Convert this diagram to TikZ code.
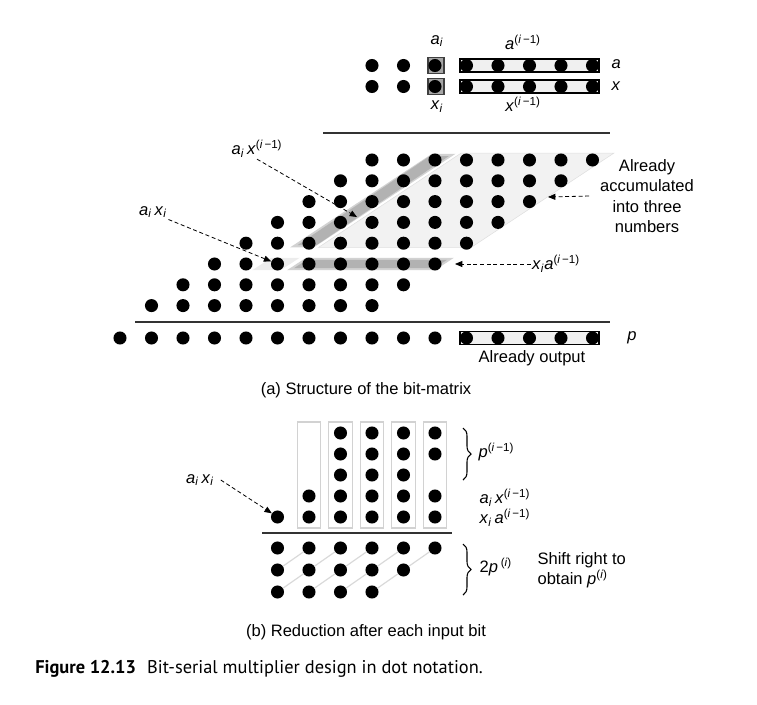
\documentclass[tikz,border=0pt]{standalone}
\usepackage{fontspec}
\setmainfont{Liberation Sans}
\newfontfamily\capfont{PT Sans}
\usetikzlibrary{arrows.meta,decorations.pathreplacing}

\newcommand{\vsub}[2]{\textit{#1}\textsubscript{\textit{#2}}}
\newcommand{\vprev}[1]{\textit{#1}\textsuperscript{(\textit{i}\,−1)}}

\tikzset{
  dot/.style={circle, fill=black, inner sep=0pt, minimum size=9.8pt},
  lbl/.style={inner sep=1pt, font=\fontsize{12.4}{15.4}\selectfont},
  dasharr/.style={dash pattern=on 3pt off 2pt, line width=0.6pt,
    -{Triangle[length=5.5pt,width=4.5pt]}},
  bar/.style={fill=gray!12, draw=black, line width=1.1pt},
  rule/.style={line width=1.1pt, black!80},
  colbox/.style={draw=gray!35, line width=1pt},
  brace/.style={decorate, decoration={brace, amplitude=6pt}, line width=0.8pt},
}

\begin{document}
\begin{tikzpicture}[x=0.75pt, y=-0.75pt]
  \useasboundingbox (0,0) rectangle (757,704);

  % Inputs a and x
  \foreach \y/\nm in {65.5/a, 86.5/x} {
    \draw[bar] (460,\y-6.5) rectangle (599,\y+6.5);
    \draw[fill=gray!70, draw=gray!50!black, line width=0.8pt] (428,\y-8) rectangle (444,\y+8);
    \foreach \c in {8,...,15}
      \node[dot] (\nm-\c) at ({120+31.5*\c},\y) {};
  }
  \node[lbl] (lbl-ai) at (437,41) {\vsub{a}{i}};
  \node[lbl] (lbl-ap) at (523,42) {\vprev{a}};
  \node[lbl] (lbl-xi) at (437,107) {\vsub{x}{i}};
  \node[lbl] (lbl-xp) at (523,104) {\vprev{x}};
  \node[lbl, anchor=west] (lbl-a) at (610,64) {\textit{a}};
  \node[lbl, anchor=west] (lbl-x) at (610,86) {\textit{x}};

  % Rules
  \draw[rule] (323,133) -- (610,133);
  \draw[rule] (135,322) -- (610,322);

  % Shaded regions
  \filldraw[fill=gray!10, draw=gray!25] (461.1,153.1) -- (613.9,153.1) -- (471.2,247.4) -- (318.5,247.4) -- cycle;
  \fill[gray!35] (431.9,153.8) -- (455.5,153.8) -- (313.7,247.4) -- (290.1,247.4) -- cycle;
  \fill[gray!60] (430.0,156.0) -- (448.9,156.0) -- (316.6,245.0) -- (297.7,245.0) -- cycle;
  \fill[gray!35] (305.9,257.8) -- (453.9,257.8) -- (435.0,270.2) -- (287.0,270.2) -- cycle;
  \fill[gray!60] (306.8,259.8) -- (447.0,259.8) -- (434.1,268.2) -- (294.0,268.2) -- cycle;
  \fill[gray!15] (271.2,257.8) -- (299.6,257.8) -- (280.7,270.2) -- (252.3,270.2) -- cycle;

  % Bit-matrix
  \foreach \r in {0,...,7}
    \foreach \u in {8,...,15} {
      \pgfmathtruncatemacro\c{\u-\r}
      \node[dot] (m-\r-\c) at ({120+31.5*\c},{160+20.8*\r}) {};
    }

  % Product p
  \draw[bar] (460,331.5) rectangle (599,344.5);
  \foreach \c in {0,...,15}
    \node[dot] (p-\c) at ({120+31.5*\c},338) {};
  \node[lbl] (lbl-p) at (632,338) {\textit{p}};
  \node[lbl] (lbl-out) at (532,358) {Already output};

  % Labels and arrows
  \node[lbl] (lbl-aix) at (257,149) {\vsub{a}{i}\,\vprev{x}};
  \coordinate (tip-aix) at (357,217);
  \draw[dasharr] (lbl-aix.south) -- (tip-aix);
  \node[lbl] (lbl-axi) at (153,212) {\vsub{a}{i}\,\vsub{x}{i}};
  \draw[dasharr] (lbl-axi.south east) -- (m-5-5);
  \node[lbl] (lbl-xai) at (556,264) {\vsub{x}{i}\vprev{a}};
  \coordinate (tip-xai) at (455,264);
  \draw[dasharr] (lbl-xai.west) -- (tip-xai);
  \node[lbl, align=center, inner xsep=8pt] (lbl-acc) at (647,196) {Already\\accumulated\\into three\\numbers};
  \coordinate (tip-acc) at (548,197);
  \draw[dasharr] (lbl-acc.west) -- (tip-acc);

  \node[lbl] (cap-a) at (366,390) {(a) Structure of the bit-matrix};

  % Reduction step
  \foreach \c in {6,...,10}
    \draw[colbox] ({120+31.5*\c-11.7},422) rectangle ({120+31.5*\c+11.7},528);
  \node[dot] (q-4-5) at (277.5,517) {};
  \foreach \c/\rows in {6/{3,4}, 7/{0,...,4}, 8/{0,...,4}, 9/{0,...,4}, 10/{0,1,3,4}}
    \foreach \r in \rows
      \node[dot] (q-\r-\c) at ({120+31.5*\c},{433+21*\r}) {};
  \draw[rule] (262,533) -- (452,533);
  \foreach \r/\last in {0/10, 1/9, 2/8}
    \foreach \c in {5,...,\last}
      \node[dot] (s-\r-\c) at ({120+31.5*\c},{548+22*\r}) {};
  \foreach \r/\last in {1/9, 2/8}
    \foreach \c in {5,...,\last} {
      \pgfmathtruncatemacro\up{\r-1}
      \pgfmathtruncatemacro\nx{\c+1}
      \draw[gray!30, line width=0.9pt] (s-\r-\c) -- (s-\up-\nx);
    }

  \draw[brace] (463,428) -- (463,480);
  \node[lbl, anchor=west] (lbl-pp) at (477,452) {\vprev{p}};
  \node[lbl, anchor=west] (lbl-b1) at (478,498) {\vsub{a}{i}\,\vprev{x}};
  \node[lbl, anchor=west] (lbl-b2) at (478,518) {\vsub{x}{i}\,\vprev{a}};
  \draw[brace] (463,544) -- (463,595);
  \node[lbl, anchor=west] (lbl-2p) at (478,567) {2\textit{p}\,\textsuperscript{(\textit{i})}};
  \node[lbl, anchor=west, align=left] (lbl-shift) at (536,570) {Shift right to\\obtain \textit{p}\textsuperscript{(\textit{i})}};
  \node[lbl, inner xsep=5pt] (lbl-baxi) at (200,480) {\vsub{a}{i}\,\vsub{x}{i}};
  \draw[dasharr] (lbl-baxi.east) -- (q-4-5);

  \node[lbl] (cap-b) at (366,632) {(b) Reduction after each input bit};

  % Figure caption
  \node[anchor=west, inner sep=0pt, font=\capfont\fontsize{13.8}{16}\selectfont] (fig-cap) at (35,669)
    {\textbf{Figure 12.13}\hspace{0.6em}Bit-serial multiplier design in dot notation.};
\end{tikzpicture}
\end{document}
